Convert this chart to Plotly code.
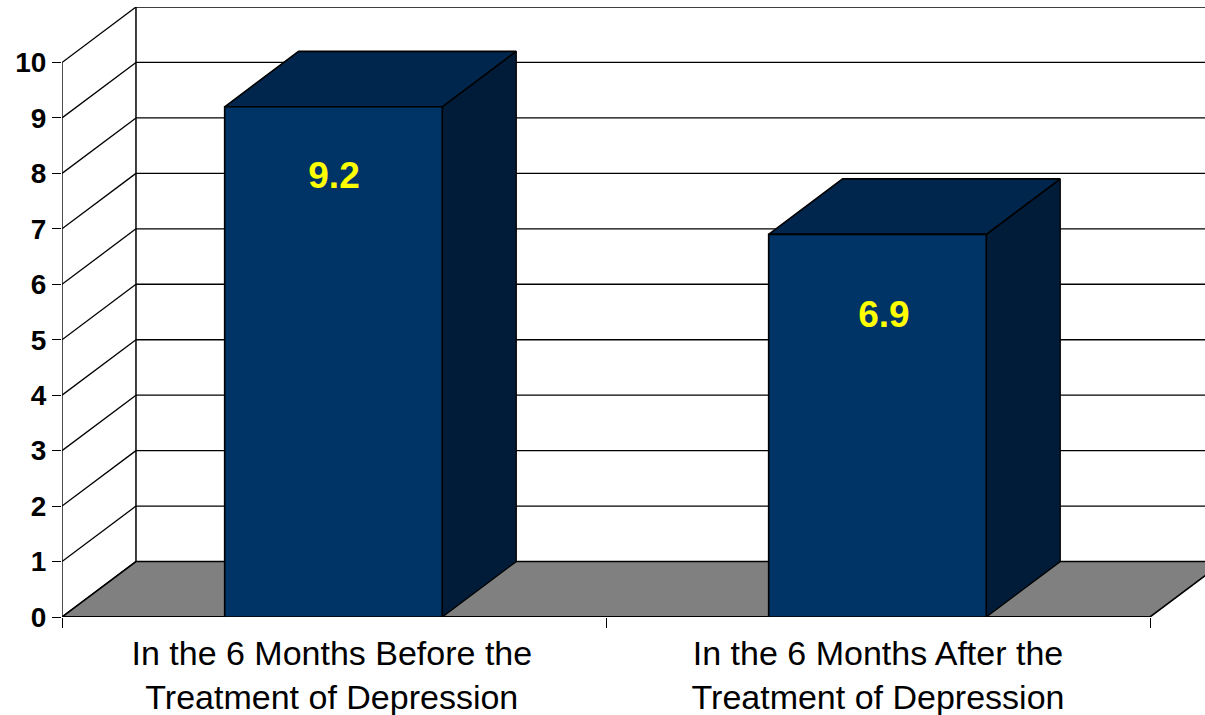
import plotly.graph_objects as go

# ---- data ----
categories = ["In the 6 Months Before the<br>Treatment of Depression",
              "In the 6 Months After the<br>Treatment of Depression"]
values = [9.2, 6.9]
value_labels = ["9.2", "6.9"]
y_ticks = [0, 1, 2, 3, 4, 5, 6, 7, 8, 9, 10]

# ---- style / pseudo-3D geometry (axis units) ----
DX, DY = 0.136, 1.0
BAR_START, BAR_WIDTH = 0.299, 0.4
LABEL_DROP = [1.29, 1.51]
LABEL_SHIFT = [0.001, 0.012]
CAT_SHIFT = [-0.004, 0.0]
FRONT, TOP, SIDE = "#003366", "#00264D", "#001C38"
FLOOR = "#808080"
XMAX = (1205 - 62) / 544
FONT = "Liberation Sans"

fig = go.Figure()


def poly(xs, ys, fill=None, width=1.4, color="black"):
    fig.add_trace(go.Scatter(
        x=xs, y=ys, mode="lines", line=dict(color=color, width=width),
        fill="toself" if fill else None, fillcolor=fill,
        hoverinfo="skip", showlegend=False, cliponaxis=False))


# back wall and side wall grid
for v in y_ticks:
    poly([0, DX], [v, v + DY], width=1.3)
    if v > 0:
        poly([DX, XMAX], [v + DY, v + DY], width=1.3)
poly([DX, DX], [DY, y_ticks[-1] + DY], width=1.5)
poly([0, 0], [y_ticks[0], y_ticks[-1]], width=1.4)

# floor
n = len(categories)
poly([0, n, n + DX, XMAX + 0.5, XMAX + 0.5, DX, 0], [0, 0, DY, DY, DY, DY, 0], fill=FLOOR, width=1.6)
poly([0, n], [0, 0], width=2)

# bars
for i, v in enumerate(values):
    x0 = i + BAR_START
    x1 = x0 + BAR_WIDTH
    poly([x1, x1 + DX, x1 + DX, x1, x1], [0, DY, v + DY, v, 0], fill=SIDE, width=1.3)
    poly([x0, x0 + DX, x1 + DX, x1, x0], [v, v + DY, v + DY, v, v], fill=TOP, width=1.6)
    poly([x0, x1, x1, x0, x0], [0, 0, v, v, 0], fill=FRONT, width=1.6)

# value labels
fig.add_trace(go.Scatter(
    x=[i + BAR_START + BAR_WIDTH / 2 + LABEL_SHIFT[i] for i in range(n)],
    y=[v - LABEL_DROP[i] for i, v in enumerate(values)],
    text=value_labels, mode="text",
    textfont=dict(family=FONT, size=37, color="#FFFF00", weight="bold"),
    hoverinfo="skip", showlegend=False, cliponaxis=False))

# carrier for the category label axis
fig.add_trace(go.Scatter(x=[0.5, 1.5], y=[0, 0], xaxis="x2", mode="markers",
                         marker=dict(opacity=0), hoverinfo="skip", showlegend=False))

fig.update_layout(
    width=1205, height=715,
    margin=dict(l=62, r=0, t=7, b=98, autoexpand=False),
    paper_bgcolor="white", plot_bgcolor="white",
    showlegend=False,
    xaxis=dict(range=[0, XMAX], tickvals=list(range(n + 1)), ticktext=[""] * (n + 1),
               ticks="outside", ticklen=10, tickwidth=1.4, tickcolor="black",
               automargin=False,
               showgrid=False, zeroline=False, showline=False),
    xaxis2=dict(range=[0, XMAX], overlaying="x", side="bottom", anchor="y",
                tickvals=[i + 0.5 + CAT_SHIFT[i] for i in range(n)], ticktext=categories,
                ticks="", showgrid=False, zeroline=False, showline=False,
                automargin=False, ticklabelstandoff=13,
                tickfont=dict(family=FONT, size=34, color="black")),
    yaxis=dict(range=[0, y_ticks[-1] + DY], tickvals=y_ticks,
               ticks="outside", ticklen=9, tickwidth=1.4, tickcolor="black",
               showline=False, automargin=False,
               showgrid=False, zeroline=False,
               tickfont=dict(family=FONT, size=28, color="black", weight="bold")),
)

fig.write_html("out.html", config={"displayModeBar": False},
               post_script="document.body.style.margin='0';document.body.style.overflow='hidden';")
